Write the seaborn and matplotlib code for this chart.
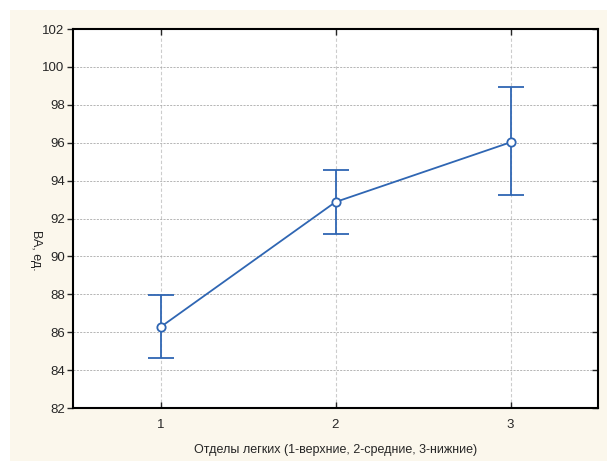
import numpy as np
import pandas as pd
import seaborn as sns
import matplotlib.pyplot as plt
from matplotlib.patches import Rectangle

# данные
otdel = [1, 2, 3]
mean_va = [86.27, 92.87, 96.02]
low_va = [84.64, 91.18, 93.24]
high_va = [87.96, 94.55, 98.92]

df = pd.DataFrame({'otdel': otdel, 'va': mean_va})

sns.set_style('white')
plt.rcParams['font.family'] = ['Liberation Sans', 'DejaVu Sans']

line_color = '#2f66b3'

fig = plt.figure(figsize=(6.07, 4.61), dpi=100, facecolor='white')
# кремовый фон с белой полосой сверху и слева
fig.patches.append(Rectangle((10 / 607, 0), 1, (461 - 10) / 461,
                             transform=fig.transFigure, facecolor='#fbf7ec',
                             edgecolor='none', zorder=-10))
ax = fig.add_axes([73 / 607, (461 - 408) / 461, 525 / 607, 379 / 461])
ax.set_facecolor('white')

sns.lineplot(data=df, x='otdel', y='va', ax=ax, color=line_color,
             linewidth=1.3, marker='o', markersize=6,
             markerfacecolor='white', markeredgecolor=line_color,
             markeredgewidth=1.3, zorder=5)
yerr = [np.array(mean_va) - np.array(low_va), np.array(high_va) - np.array(mean_va)]
ax.errorbar(otdel, mean_va, yerr=yerr, fmt='none', ecolor=line_color,
            elinewidth=1.3, capsize=9.5, capthick=1.3, zorder=4)

ax.set_xlim(0.5, 3.5)
ax.set_ylim(82, 102)
ax.set_xticks(otdel)
ax.set_yticks(np.arange(82, 103, 2))
ax.grid(True, color='#aaaaaa', linestyle=(0, (2.5, 1.5)), linewidth=0.6)
ax.grid(True, axis='x', color='#cccccc', linestyle=(0, (3, 2)), linewidth=0.8)

for s in ax.spines.values():
    s.set_color('black')
    s.set_linewidth(1.5)

ax.tick_params(axis='y', which='both', left=True, right=True, direction='out',
               length=4, width=1, labelsize=9.5, pad=2)
ax.tick_params(axis='x', bottom=True, top=True, direction='in', length=4,
               width=1, labelsize=9.5, pad=8)
# правые тики внутрь
for t in ax.yaxis.get_major_ticks():
    t.tick2line.set_marker(0)
    t.tick2line.set_markersize(4)

ax.set_xlabel('Отделы легких (1-верхние, 2-средние, 3-нижние)', fontsize=9,
              labelpad=9)
ax.set_ylabel('ВА, ед.', fontsize=9, rotation=270, va='center', ha='center')
ax.yaxis.set_label_coords(-0.07, 0.415)

fig.savefig('out.png', dpi=100, facecolor=fig.get_facecolor())
